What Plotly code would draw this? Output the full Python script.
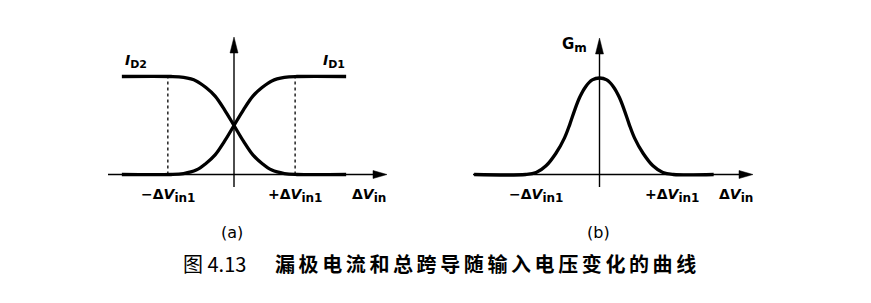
import plotly.graph_objects as go

W, H = 871, 303

# ---------------- data (ΔV_in expressed in units of ΔV_in1) ----------------
# panel (a): drain currents (normalised to I_SS)
dv_a = [-1.78, -1.0, -0.8, -0.6, -0.45, -0.3, -0.15, 0, 0.15, 0.3, 0.45, 0.6, 0.8, 1.0, 1.78]
i_d1 = [0, 0, 0.01, 0.045, 0.11, 0.2, 0.34, 0.5, 0.66, 0.8, 0.89, 0.955, 0.99, 1, 1]
i_d2 = [1, 1, 0.99, 0.955, 0.89, 0.8, 0.66, 0.5, 0.34, 0.2, 0.11, 0.045, 0.01, 0, 0]
vin1_a = [-1.05, 0.97]          # ±ΔV_in1 marks in (a)
vin1_prefix = ["−Δ", "+Δ"]

# panel (b): total transconductance (normalised)
dv_b = [-1.9, -1.12, -0.96, -0.81, -0.66, -0.53, -0.45, -0.38, -0.30, -0.21, -0.11, 0,
        0.11, 0.21, 0.30, 0.38, 0.45, 0.53, 0.66, 0.81, 0.96, 1.12, 1.73]
gm = [0, 0, 0.02, 0.09, 0.22, 0.38, 0.52, 0.66, 0.80, 0.91, 0.98, 1,
      0.98, 0.91, 0.80, 0.66, 0.52, 0.38, 0.22, 0.09, 0.02, 0, 0]
vin1_b = [-0.96, 1.10]          # ±ΔV_in1 label positions in (b)

caption_num = "图 4.13"
caption_txt = "漏极电流和总跨导随输入电压变化的曲线"

# ---------------- geometry (pixel mapping of each panel) ----------------
GA = dict(cx=234.0, ux=63.0, by=174.5, uy=98.0, px=(100, 400), py=(30, 205))
GB = dict(cx=599.5, ux=66.0, by=174.5, uy=96.5, px=(460, 775), py=(30, 205))

LFONT = "DejaVu Sans, Liberation Sans, sans-serif"
MAIN, SUB = 14, 12

def dx(g, px):
    return (px - g["cx"]) / g["ux"]

def dy(g, py):
    return (g["by"] - py) / g["uy"]

def sub(t, size=SUB):
    return f"<sub><span style='font-size:{size}px'>{t}</span></sub>"

def vlab(prefix, s):
    return f"{prefix}<i>V</i>{sub(s)}"

fig = go.Figure()

line = dict(color="black", width=3.3, shape="spline", smoothing=1.0)
fig.add_trace(go.Scatter(x=dv_a, y=i_d1, mode="lines", line=line, xaxis="x", yaxis="y",
                         hoverinfo="skip", showlegend=False))
fig.add_trace(go.Scatter(x=dv_a, y=i_d2, mode="lines", line=line, xaxis="x", yaxis="y",
                         hoverinfo="skip", showlegend=False))
fig.add_trace(go.Scatter(x=dv_b, y=gm, mode="lines", line=line, xaxis="x2", yaxis="y2",
                         hoverinfo="skip", showlegend=False))

shapes = []
annotations = []

def axes_for(g, xr, yr, x_from_px, x_tip_px, y_from_py, y_tip_py):
    x0, x1 = dx(g, x_from_px), dx(g, x_tip_px)
    y0, y1 = dy(g, y_from_py), dy(g, y_tip_py)
    lw = 1.4
    shapes.append(dict(type="line", xref=xr, yref=yr, x0=x0, x1=x1 - 4 / g["ux"], y0=0, y1=0,
                       line=dict(color="black", width=lw)))
    shapes.append(dict(type="line", xref=xr, yref=yr, x0=0, x1=0, y0=y0, y1=y1 - 4 / g["uy"],
                       line=dict(color="black", width=lw)))
    L, Wd = 14, 8
    hx = f"M {x1},0 L {x1 - L / g['ux']},{Wd / 2 / g['uy']} L {x1 - L / g['ux']},{-Wd / 2 / g['uy']} Z"
    L2 = 16
    vy = f"M 0,{y1} L {Wd / 2 / g['ux']},{y1 - L2 / g['uy']} L {-Wd / 2 / g['ux']},{y1 - L2 / g['uy']} Z"
    for p in (hx, vy):
        shapes.append(dict(type="path", xref=xr, yref=yr, path=p, fillcolor="black",
                           line=dict(color="black", width=0.5)))

axes_for(GA, "x", "y", 108, 387, 187, 37)
axes_for(GB, "x2", "y2", 473, 753, 187, 38)

for v in vin1_a:
    shapes.append(dict(type="line", xref="x", yref="y", x0=v, x1=v, y0=0, y1=1,
                       line=dict(color="black", width=1.3, dash="dot")))

def pa(px, py, text, size=MAIN, xanchor="center", yanchor="middle", family=LFONT,
       weight="bold", xref="paper", x=None):
    annotations.append(dict(xref=xref, yref="paper", x=(px / W if x is None else x),
                            y=1 - py / H, text=text,
                            showarrow=False, xanchor=xanchor, yanchor=yanchor,
                            font=dict(family=family, size=size, color="black", weight=weight)))

# curve labels
pa(136, 61, f"<i>I</i>{sub('D2', 11)}", size=14)
pa(334, 61, f"<i>I</i>{sub('D1', 11)}", size=14)
pa(574, 45, f"G{sub('m', 12)}", size=15)

# x-axis labels
for v, p in zip(vin1_a, vin1_prefix):
    pa(0, 196, vlab(p, "in1"), xref="x", x=v)
for v, p in zip(vin1_b, vin1_prefix):
    pa(0, 196, vlab(p, "in1"), xref="x2", x=v)
pa(369, 196, vlab("Δ", "in"))
pa(736, 196, vlab("Δ", "in"))

pa(232, 232, "(a)", size=16, weight="normal")
pa(598, 232, "(b)", size=16, weight="normal")

# caption
pa(181, 263, caption_num, size=20, xanchor="left", weight="normal",
   family="Noto Sans CJK SC, Liberation Serif, serif")
pa(273, 263, f"<span style='letter-spacing:3.6px'>{caption_txt}</span>", size=20,
   xanchor="left", family="Noto Sans CJK SC, sans-serif")

ax_common = dict(visible=False, showgrid=False, zeroline=False, fixedrange=True)
layout = dict(
    width=W, height=H, margin=dict(l=0, r=0, t=0, b=0),
    paper_bgcolor="white", plot_bgcolor="rgba(0,0,0,0)", showlegend=False,
    shapes=shapes, annotations=annotations,
)
for name, g in (("", GA), ("2", GB)):
    layout["xaxis" + name] = dict(ax_common, domain=[g["px"][0] / W, g["px"][1] / W],
                                  range=[dx(g, g["px"][0]), dx(g, g["px"][1])],
                                  anchor="y" + name)
    layout["yaxis" + name] = dict(ax_common, domain=[1 - g["py"][1] / H, 1 - g["py"][0] / H],
                                  range=[dy(g, g["py"][1]), dy(g, g["py"][0])],
                                  anchor="x" + name)
fig.update_layout(**layout)
fig.write_html("out.html")
